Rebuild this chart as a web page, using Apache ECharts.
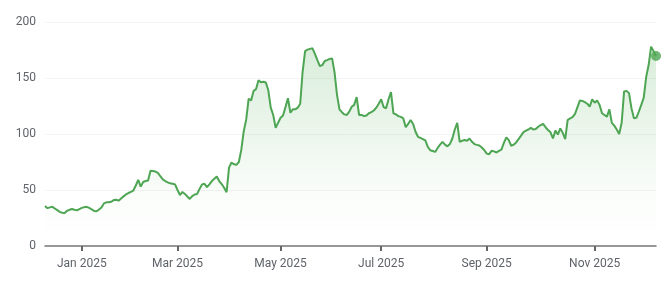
<!DOCTYPE html>
<html>
<head>
<meta charset="utf-8">
<script src="https://cdn.jsdelivr.net/npm/echarts@6/dist/echarts.min.js"></script>
<style>
html,body{margin:0;padding:0;background:#fff;}
#chart{width:672px;height:285px;}
</style>
</head>
<body>
<div id="chart"></div>
<script>
// Trading-day calendar (first day, market holidays) used to build categories
const startDate = '2024-12-10';
const holidays = ['2024-12-25','2025-01-01','2025-01-09','2025-01-20','2025-02-17','2025-04-18','2025-05-26','2025-06-19','2025-07-04','2025-09-01','2025-11-27'];
const labelMonths = [0, 2, 4, 6, 8, 10];
const monthNames = ['Jan','Feb','Mar','Apr','May','Jun','Jul','Aug','Sep','Oct','Nov','Dec'];
const yTicks = [0, 50, 100, 150, 200];

// Closing values (one per trading day)
const prices = [
35.7,33.8,34.5,35,33.5,32,30.5,29.7,29.5,31.5,
32.3,33,32.3,31.8,33,34,34.7,35,34,32.8,
31.3,31,32.5,34.3,38,39,39,39.5,41,41.3,
40.5,42.5,44.3,46,47.3,48.3,49.5,54,59,53,
57.2,58,58.5,67.2,67,66.5,65.3,62.3,59.5,58,
56.8,56,55.5,55,50,45.5,48.3,46.5,44.2,42,
44.5,46,46.5,51,55,55.5,52.5,55,58,60,
62,58,55.3,52,48,70,74.5,73,72.5,75,
86,102.5,113,131.5,130,138.5,140,148,146.2,146.7,
146,139,123.5,117,105.5,110,114.5,116.5,124,132,
119,122,122,123.5,127,156,174,175.3,176,176.5,
171.5,166,160.7,161.5,165.2,166,167,167.5,155,135,
122,119.5,117.5,117,120,124.3,126,133,117,117,
116,116.5,118.5,119.5,121,123.5,127,131,124,123,
131,137.5,118.5,117.5,116,115.3,114,106,109,112.5,
109,102,97.5,96.5,95.5,94.3,88.5,85.5,84.8,84,
87.5,90.5,93,90.5,89,91,96,104,110,93,
94,94.6,94,96,93,91,90.3,89.8,88,85.7,
82.5,82,85,84.5,83.5,85,86,92,97,94.5,
89.5,90.5,92.5,95.5,98.5,101.7,103,104,105.5,104,
104.5,106.5,108,109,106,103.5,101.5,96,103,99.5,
105,101,95.5,112.5,114,115,118,124,130,129.5,
128.5,127,124.5,131,128,130,126,118.5,117,115.5,
122,110,107.5,104,100,110,138,138.5,136.5,123,
114,114.5,120,126,132.5,151,161.6,178,174,169.6
];

function buildDates(start, count, hol) {
  const out = [];
  const d = new Date(start + 'T00:00:00Z');
  while (out.length < count) {
    const dow = d.getUTCDay();
    const iso = d.toISOString().slice(0, 10);
    if (dow !== 0 && dow !== 6 && hol.indexOf(iso) < 0) out.push(iso);
    d.setUTCDate(d.getUTCDate() + 1);
  }
  return out;
}
const dates = buildDates(startDate, prices.length, holidays);

function isLabelDay(idx) {
  if (idx === 0) return false;
  const m = +dates[idx].slice(5, 7) - 1;
  const pm = +dates[idx - 1].slice(5, 7) - 1;
  return m !== pm && labelMonths.indexOf(m) >= 0;
}

const green = '#4ea553';
const chart = echarts.init(document.getElementById('chart'), null, {renderer: 'canvas'});
chart.setOption({
  animation: false,
  grid: {left: 45, right: 16, top: 22, bottom: 39, containLabel: false},
  xAxis: {
    type: 'category',
    data: dates,
    boundaryGap: false,
    axisLine: {show: true, lineStyle: {color: '#777', width: 1.5}},
    axisTick: {show: true, length: 5, lineStyle: {color: '#666', width: 2}, interval: (i) => isLabelDay(i)},
    axisLabel: {
      interval: (i) => isLabelDay(i),
      color: '#5f6368', fontFamily: 'Roboto', fontSize: 12, margin: 12,
      formatter: (v) => monthNames[+v.slice(5, 7) - 1] + ' ' + v.slice(0, 4)
    },
    splitLine: {show: false}
  },
  yAxis: {
    type: 'value',
    min: yTicks[0], max: yTicks[yTicks.length - 1], interval: 50,
    axisLine: {show: false}, axisTick: {show: false},
    axisLabel: {color: '#5f6368', fontFamily: 'Roboto', fontSize: 12, margin: 9},
    splitLine: {show: true, lineStyle: {color: '#f4f4f4', width: 1}}
  },
  series: [
    {
      type: 'line',
      data: prices,
      showSymbol: false,
      smooth: false,
      lineStyle: {color: green, width: 2},
      itemStyle: {color: green},
      areaStyle: {
        color: new echarts.graphic.LinearGradient(0, 0, 0, 1, [
          {offset: 0, color: 'rgba(76,170,80,0.30)'},
          {offset: 0.75, color: 'rgba(76,170,80,0.04)'},
          {offset: 1, color: 'rgba(76,170,80,0)'}
        ])
      },
      z: 2
    },
    {
      type: 'scatter',
      data: [[dates[dates.length - 1], prices[prices.length - 1]]],
      symbol: 'circle',
      symbolSize: 10,
      itemStyle: {color: green},
      z: 3
    }
  ]
});
</script>
</body>
</html>
